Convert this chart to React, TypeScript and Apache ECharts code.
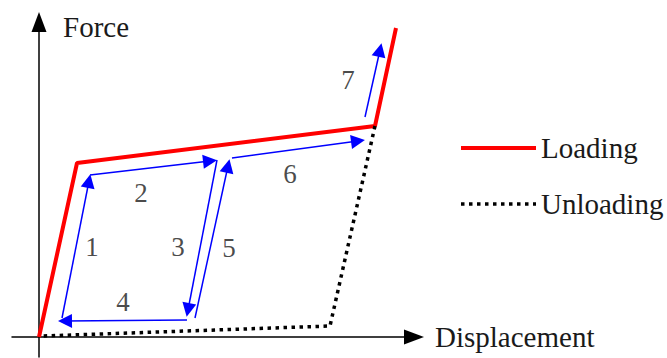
import React, { useEffect, useRef } from "react";
import * as echarts from "echarts";

// Force–displacement path of the structure (units: arbitrary)
const loadingPath: [number, number][] = [
  [0, 0],
  [3.8, 17.4],
  [33.6, 21.1],
  [35.7, 30.9],
];

const unloadingPath: [number, number][] = [
  [33.6, 21.1],
  [29.1, 1.1],
  [0.4, 0.1],
];

// Numbered load steps drawn as arrows (start, end of shaft; the head sits on the end)
const stepArrows: [number, number][][] = [
  [[2.3, 1.9], [5.0, 15.6]],
  [[5.1, 16.2], [17.1, 17.6]],
  [[17.8, 17.7], [14.9, 2.7]],
  [[14.8, 1.7], [2.6, 1.6]],
  [[15.6, 1.9], [18.9, 17.1]],
  [[19.3, 17.9], [31.9, 19.6]],
  [[32.6, 22.0], [34.1, 28.7]],
];

const stepLabels = ["1", "2", "3", "4", "5", "6", "7"];
const stepLabelPos: [number, number][] = [
  [5.3, 9.0],
  [10.2, 14.4],
  [13.9, 9.0],
  [8.4, 3.5],
  [19.0, 8.9],
  [25.1, 16.3],
  [30.9, 25.7],
];

const seriesNames = ["Loading", "Unloading"];
const axisNames = { x: "Displacement", y: "Force" };

const SERIF = "Liberation Serif";
const TEXT = "#1a1a1a";

export default function App() {
  const ref = useRef<HTMLDivElement>(null);

  useEffect(() => {
    if (!ref.current) return;
    const chart = echarts.init(ref.current, null, { renderer: "svg" });
    const axisLine = {
      onZero: true,
      symbol: ["none", "triangle"],
      symbolSize: [15, 20],
      lineStyle: { color: "#000", width: 1.5 },
    };
    const nameStyle = {
      fontFamily: SERIF,
      fontSize: 29,
      color: TEXT,
      align: "left",
      verticalAlign: "middle",
    };
    chart.setOption({
      animation: false,
      backgroundColor: "#fff",
      grid: { left: 12, right: 253, top: 22, bottom: 1 },
      xAxis: {
        type: "value",
        min: -2.7,
        max: 37.5,
        axisLine,
        axisTick: { show: false },
        axisLabel: { show: false },
        splitLine: { show: false },
        name: axisNames.x,
        nameLocation: "end",
        nameGap: 21,
        nameTextStyle: nameStyle,
      },
      yAxis: {
        type: "value",
        min: -2.0,
        max: 31.5,
        axisLine,
        axisTick: { show: false },
        axisLabel: { show: false },
        splitLine: { show: false },
        name: axisNames.y,
        nameLocation: "end",
        nameGap: -5,
        nameTextStyle: { ...nameStyle, padding: [0, 0, 0, 24] },
      },
      legend: {
        orient: "vertical",
        left: 459,
        top: 133,
        padding: 0,
        itemWidth: 75,
        itemHeight: 14,
        itemGap: 26,
        textStyle: {
          fontFamily: SERIF,
          fontSize: 29,
          color: TEXT,
          lineHeight: 30,
        },
        data: [
          {
            name: seriesNames[0],
            itemStyle: { opacity: 0 },
            lineStyle: { color: "#f00", width: 4 },
          },
          {
            name: seriesNames[1],
            itemStyle: { opacity: 0 },
            lineStyle: { color: "#000", width: 3.5, type: [3.5, 4.5] },
          },
        ],
      },
      series: [
        {
          name: seriesNames[0],
          type: "line",
          data: loadingPath,
          symbol: "none",
          lineStyle: { color: "#f00", width: 4 },
          itemStyle: { color: "#f00" },
          z: 3,
        },
        {
          name: seriesNames[1],
          type: "line",
          data: unloadingPath,
          symbol: "none",
          lineStyle: { color: "#000", width: 3.5, type: [3.5, 4.5] },
          itemStyle: { color: "#000" },
          z: 3,
        },
        {
          name: "steps",
          type: "lines",
          coordinateSystem: "cartesian2d",
          polyline: false,
          symbol: ["none", "triangle"],
          symbolSize: [11, 14],
          lineStyle: { color: "#0000ff", width: 1.5, opacity: 1 },
          itemStyle: { color: "#0000ff" },
          data: stepArrows.map((c) => ({ coords: c })),
          z: 2,
        },
        {
          name: "stepLabels",
          type: "scatter",
          symbolSize: 1,
          itemStyle: { color: "transparent" },
          label: {
            show: true,
            position: "inside",
            formatter: "{b}",
            fontFamily: SERIF,
            fontSize: 27,
            color: TEXT,
          },
          data: stepLabels.map((n, i) => ({ name: n, value: stepLabelPos[i] })),
        },
      ],
    });
    return () => chart.dispose();
  }, []);

  return (
    <div
      ref={ref}
      style={{ position: "absolute", left: 0, top: 0, width: 667, height: 358 }}
    />
  );
}
